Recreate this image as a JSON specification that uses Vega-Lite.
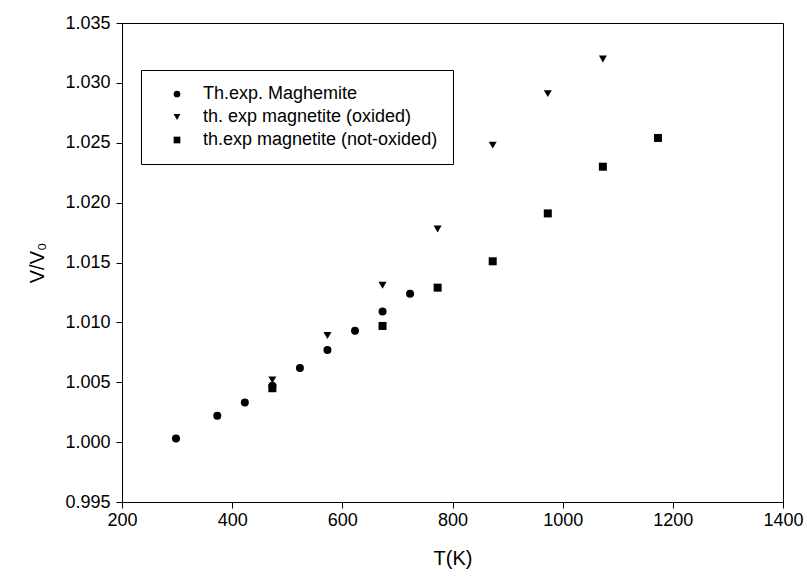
{
  "$schema": "https://vega.github.io/schema/vega-lite/v6.json",
  "width": 661,
  "height": 479,
  "autosize": {"type": "none"},
  "padding": {"left": 122, "top": 23, "right": 24, "bottom": 76},
  "background": "white",
  "config": {
    "font": "Liberation Sans",
    "view": {"stroke": "black", "strokeWidth": 1},
    "axis": {"grid": false, "domainColor": "black", "tickColor": "black", "labelColor": "black", "titleColor": "black", "labelFont": "Liberation Sans", "titleFont": "Liberation Sans", "titleFontWeight": "normal", "labelFontSize": 18, "titleFontSize": 20, "tickSize": 6, "domainWidth": 1, "tickWidth": 1}
  },
  "data": {
    "values": [
      {"T": 298, "V": 1.0003, "series": "Th.exp. Maghemite"},
      {"T": 373, "V": 1.0022, "series": "Th.exp. Maghemite"},
      {"T": 423, "V": 1.0033, "series": "Th.exp. Maghemite"},
      {"T": 473, "V": 1.0047, "series": "Th.exp. Maghemite"},
      {"T": 523, "V": 1.0062, "series": "Th.exp. Maghemite"},
      {"T": 573, "V": 1.0077, "series": "Th.exp. Maghemite"},
      {"T": 623, "V": 1.0093, "series": "Th.exp. Maghemite"},
      {"T": 673, "V": 1.0109, "series": "Th.exp. Maghemite"},
      {"T": 723, "V": 1.0124, "series": "Th.exp. Maghemite"},
      {"T": 473, "V": 1.0052, "series": "th. exp magnetite (oxided)"},
      {"T": 573, "V": 1.0089, "series": "th. exp magnetite (oxided)"},
      {"T": 673, "V": 1.0131, "series": "th. exp magnetite (oxided)"},
      {"T": 773, "V": 1.0178, "series": "th. exp magnetite (oxided)"},
      {"T": 873, "V": 1.0248, "series": "th. exp magnetite (oxided)"},
      {"T": 973, "V": 1.0291, "series": "th. exp magnetite (oxided)"},
      {"T": 1073, "V": 1.0320, "series": "th. exp magnetite (oxided)"},
      {"T": 473, "V": 1.0045, "series": "th.exp magnetite (not-oxided)"},
      {"T": 673, "V": 1.0097, "series": "th.exp magnetite (not-oxided)"},
      {"T": 773, "V": 1.0129, "series": "th.exp magnetite (not-oxided)"},
      {"T": 873, "V": 1.0151, "series": "th.exp magnetite (not-oxided)"},
      {"T": 973, "V": 1.0191, "series": "th.exp magnetite (not-oxided)"},
      {"T": 1073, "V": 1.0230, "series": "th.exp magnetite (not-oxided)"},
      {"T": 1173, "V": 1.0254, "series": "th.exp magnetite (not-oxided)"}
    ]
  },
  "mark": {"type": "point", "filled": true, "color": "black", "opacity": 1, "size": 64},
  "encoding": {
    "x": {"field": "T", "type": "quantitative", "title": "T(K)", "scale": {"domain": [200, 1400], "nice": false, "zero": false}, "axis": {"values": [200, 400, 600, 800, 1000, 1200, 1400], "format": "d", "labelPadding": 3, "titlePadding": 19, "labelFlush": false}},
    "y": {"field": "V", "type": "quantitative", "title": "V/V₀", "scale": {"domain": [0.995, 1.035], "nice": false, "zero": false}, "axis": {"values": [0.995, 1.0, 1.005, 1.01, 1.015, 1.02, 1.025, 1.03, 1.035], "format": ".3f", "labelPadding": 6, "titlePadding": 17, "labelFlush": false}},
    "shape": {"field": "series", "type": "nominal", "title": null,
      "scale": {"domain": ["Th.exp. Maghemite", "th. exp magnetite (oxided)", "th.exp magnetite (not-oxided)"], "range": ["circle", "triangle-down", "square"]},
      "legend": {"orient": "none", "legendX": 19, "legendY": 47, "strokeColor": "black", "padding": 15, "symbolOffset": 12, "symbolSize": 45, "symbolFillColor": "black", "symbolStrokeColor": "black", "labelFontSize": 18, "labelFont": "Liberation Sans", "labelColor": "black", "labelOffset": 17, "rowPadding": 5, "fillColor": "white", "labelLimit": 400}
    }
  }
}
